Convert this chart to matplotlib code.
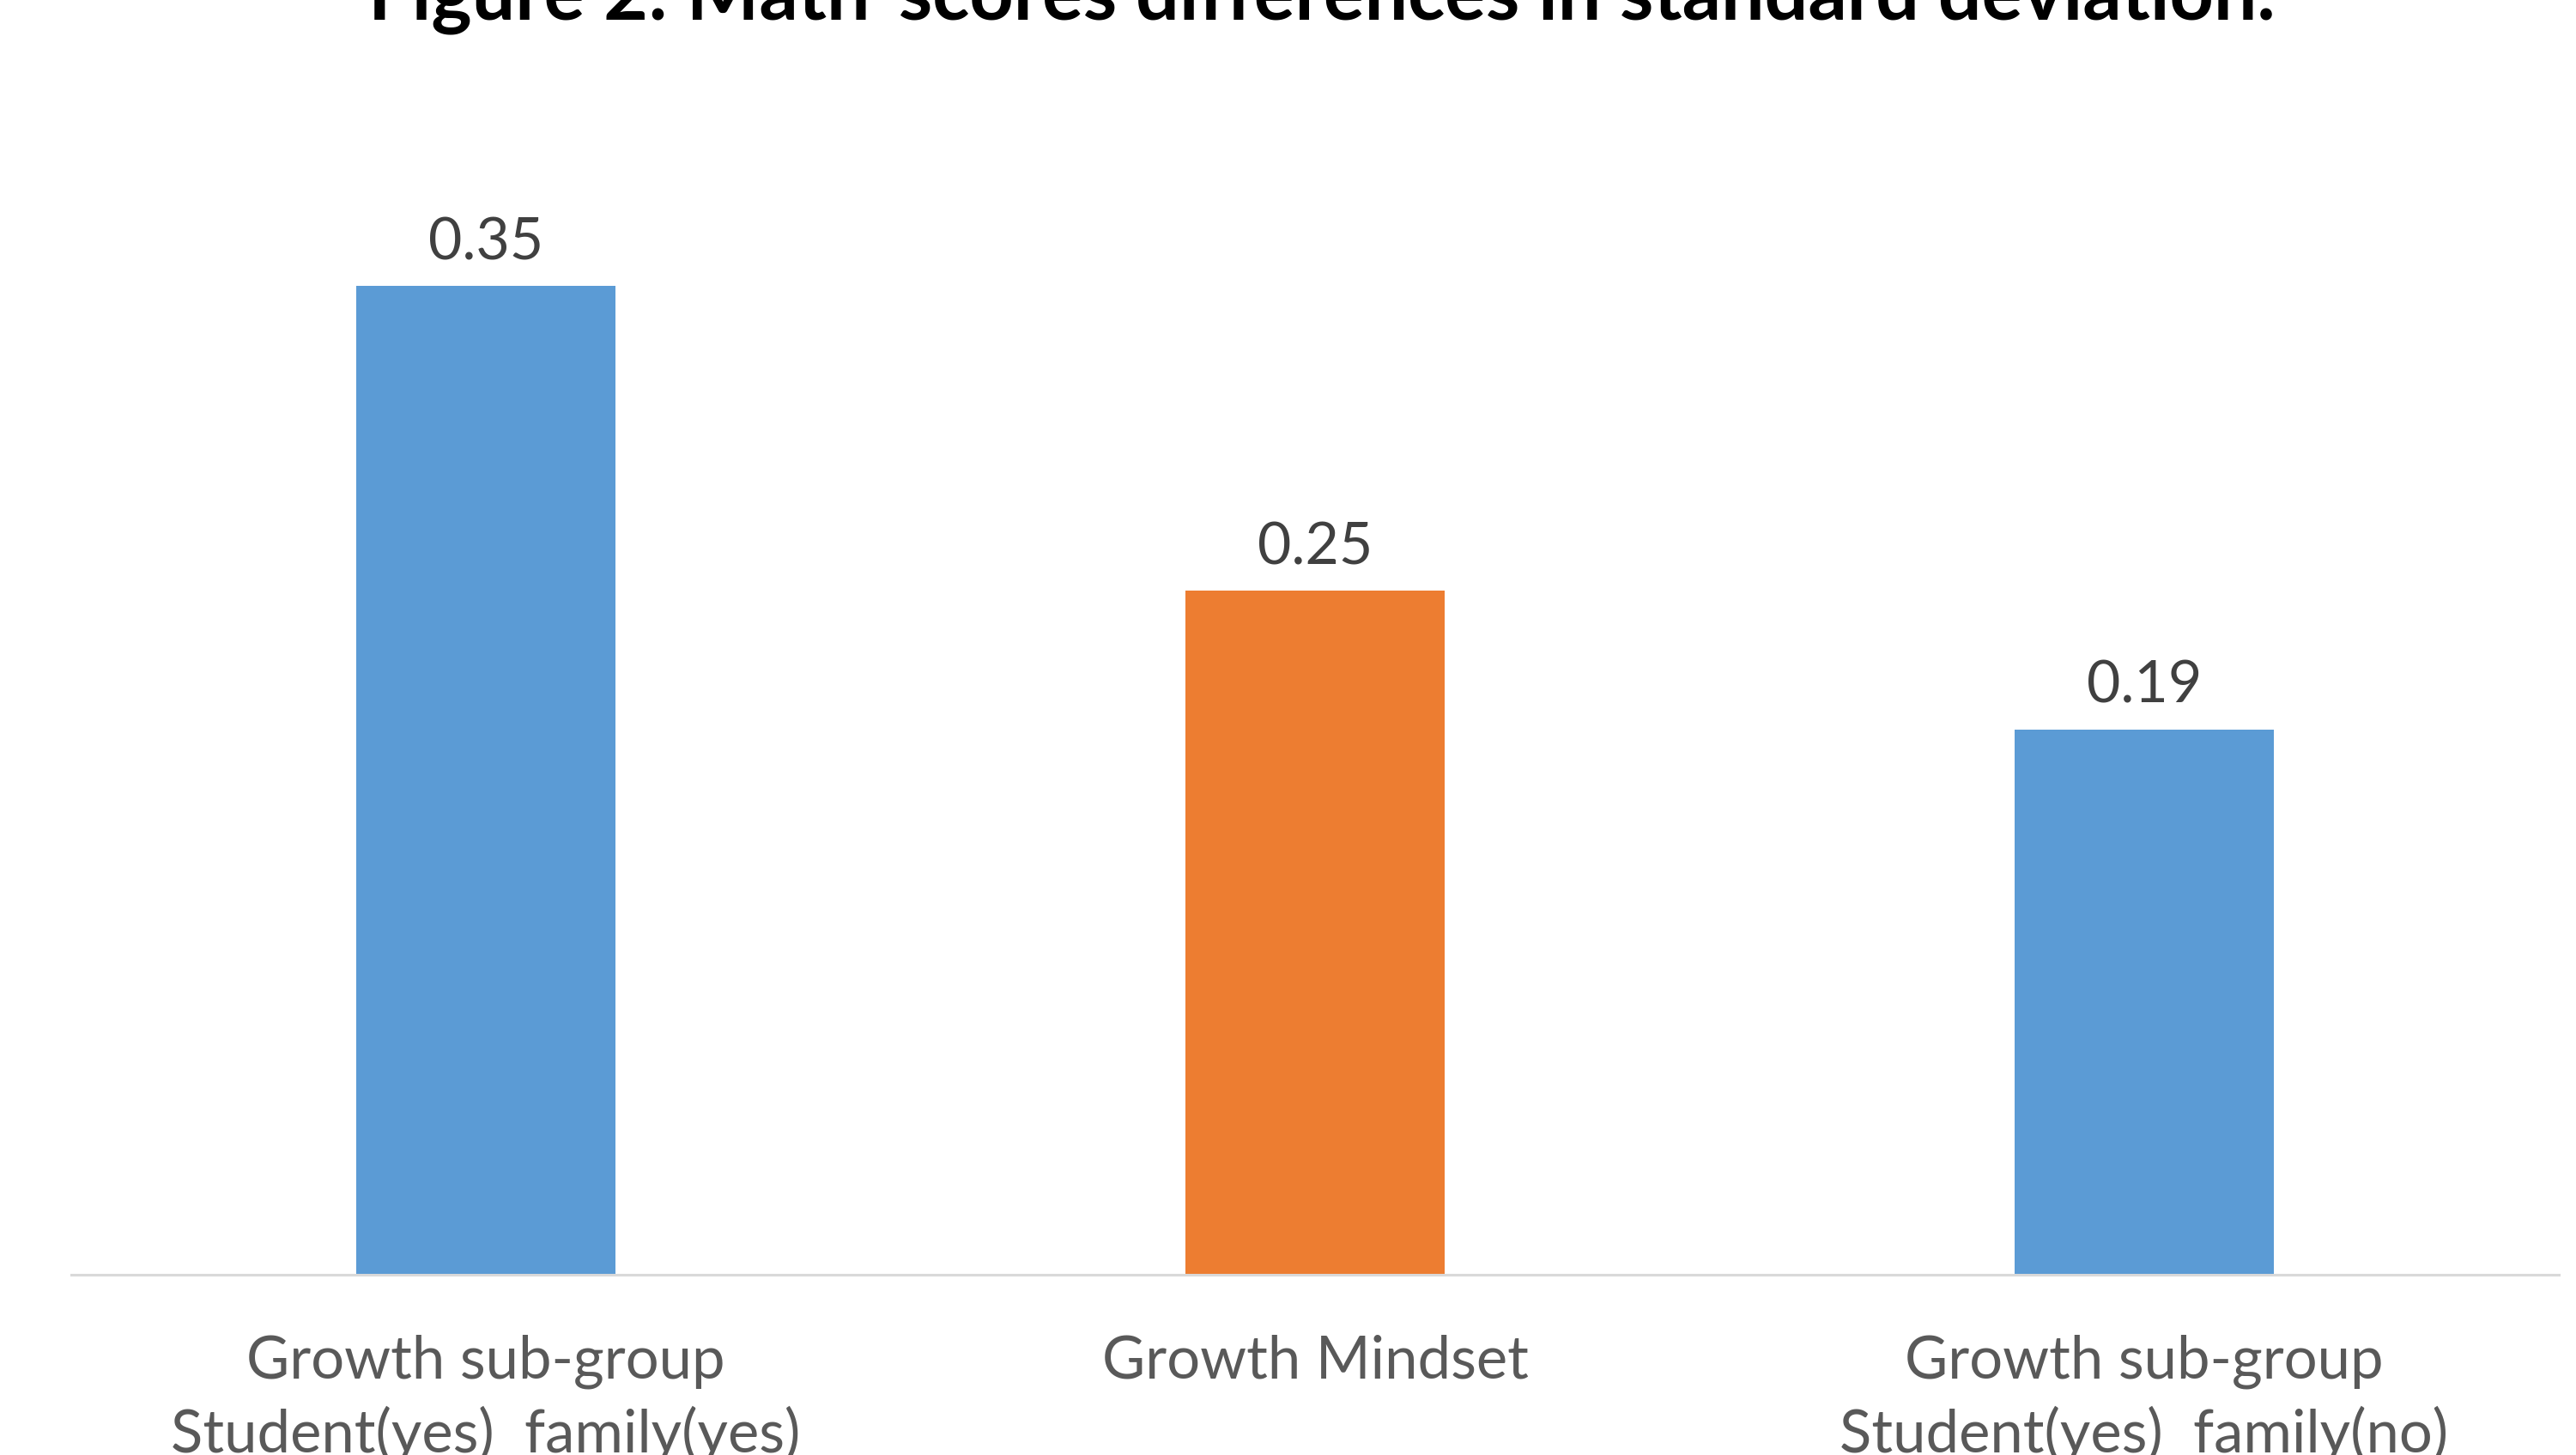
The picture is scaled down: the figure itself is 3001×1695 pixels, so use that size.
import matplotlib
matplotlib.use("Agg")
import matplotlib.pyplot as plt
from matplotlib import transforms

# data
categories = [
    "Growth sub-group\nStudent(yes)  family(yes)",
    "Growth Mindset",
    "Growth sub-group\nStudent(yes)  family(no)",
]
values = [0.35, 0.242, 0.193]
value_labels = ["0.35", "0.25", "0.19"]
bar_colors = ["#5B9BD5", "#ED7D31", "#5B9BD5"]
title = "Figure 2: Math-scores differences in standard deviation."

W, H, DPI = 3001, 1695, 100
plt.rcParams["font.family"] = ["Lato", "DejaVu Sans"]

fig = plt.figure(figsize=(W / DPI, H / DPI), dpi=DPI)

# axes placement in pixels
ax_left, ax_right = 83, 2981
ax_base = 1485
px_per_unit = 1152 / 0.35
ymax = 0.39
ax_h = ymax * px_per_unit
ax = fig.add_axes([ax_left / W, (H - ax_base) / H, (ax_right - ax_left) / W, ax_h / H])

x = list(range(len(categories)))
ax.bar(x, values, width=0.313, color=bar_colors, zorder=2)
ax.set_xlim(-0.5, len(categories) - 0.5)
ax.set_ylim(0, ymax)

for s in ["top", "right", "left"]:
    ax.spines[s].set_visible(False)
ax.spines["bottom"].set_color("#D9D9D9")
ax.spines["bottom"].set_linewidth(2.2)
ax.set_yticks([])
ax.set_xticks([])

for xi, v, lab in zip(x, values, value_labels):
    ax.annotate(lab, (xi, v), xytext=(0, 31), textcoords="offset pixels",
                ha="center", va="baseline", fontsize=49, color="#404040")

# category labels below the axis line
trans = transforms.blended_transform_factory(ax.transData, fig.transFigure)
for xi, cat in zip(x, categories):
    ax.text(xi, 1 - 1555 / H, cat, transform=trans, ha="center", va="top",
            fontsize=49.5, color="#595959", linespacing=1.36)

t = fig.text(1540 / W, 1 - 22 / H, title, ha="center", va="baseline",
             fontsize=60, fontweight="bold", color="black")
# fit the title width to the reference
fig.canvas.draw()
w = t.get_window_extent().width
t.set_fontsize(60 * 2222 / w)

fig.savefig("out.png", dpi=DPI)
